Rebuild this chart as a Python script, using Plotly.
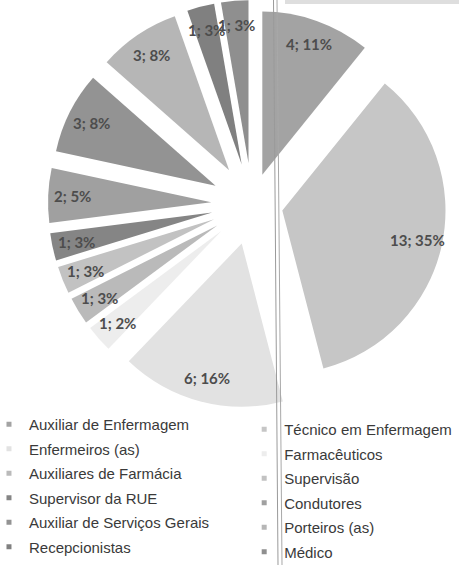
import math
import plotly.graph_objects as go

# Staff composition by role: head count and share shown on each slice
categories = [
    "Auxiliar de Enfermagem", "Técnico em Enfermagem",
    "Enfermeiros (as)", "Farmacêuticos",
    "Auxiliares de Farmácia", "Supervisão",
    "Supervisor da RUE", "Condutores",
    "Auxiliar de Serviços Gerais", "Porteiros (as)",
    "Recepcionistas", "Médico",
]
counts = [4, 13, 6, 1, 1, 1, 1, 2, 3, 3, 1, 1]
percent_labels = [11, 35, 16, 2, 3, 3, 3, 5, 8, 8, 3, 3]

# Grey shades for the slices, in category order
slice_colors = [
    "#a3a3a3", "#c6c6c6", "#e2e2e2", "#ededed",
    "#bababa", "#c2c2c2", "#858585", "#a0a0a0",
    "#939393", "#b6b6b6", "#808080", "#8f8f8f",
]
# Exploded slices: the two largest are pulled out a little less
slice_pull = [0.19, 0.19] + [0.25] * 10

W, H = 459, 565
dom_x = [0.104, 0.994]
dom_y = [0.2779, 1.0]

fig = go.Figure()
fig.add_trace(go.Pie(
    labels=categories,
    values=counts,
    sort=False,
    direction="clockwise",
    rotation=0,
    pull=slice_pull,
    marker=dict(colors=slice_colors, line=dict(width=0)),
    textinfo="none",
    hoverinfo="label+value+percent",
    domain=dict(x=dom_x, y=dom_y),
    showlegend=False,
))

# Two-column key: categories alternate between a left and a right legend
for i, (name, color) in enumerate(zip(categories, slice_colors)):
    fig.add_trace(go.Scatter(
        x=[None], y=[None], mode="markers", name=name,
        marker=dict(symbol="square", size=5, color=color),
        legend="legend" if i % 2 == 0 else "legend2",
        legendgroup=name, hoverinfo="skip",
    ))

# Data labels "count; share" placed along each slice's bisector,
# following the same radius / pull geometry plotly uses for the pie
box_w = W * (dom_x[1] - dom_x[0])
box_h = H * (dom_y[1] - dom_y[0])
r = min(box_w, box_h) / 2 / (1 + max(slice_pull))
cx = W * (dom_x[0] + dom_x[1]) / 2
cy = H * (1 - dom_y[1]) + box_h / 2
total = sum(counts)

annotations = []
cum = 0
for v, p, pull in zip(counts, percent_labels, slice_pull):
    mid = (cum + v / 2) / total * 2 * math.pi
    cum += v
    dist = (pull + 0.85) * r
    px = cx + dist * math.sin(mid)
    py = cy - dist * math.cos(mid)
    annotations.append(dict(
        x=px / W, y=1 - py / H, xref="paper", yref="paper",
        text=f"<b>{v}; {p}%</b>", showarrow=False,
        font=dict(family="Lato, Carlito, sans-serif", size=15, color="#4d4d4d"),
        xanchor="center", yanchor="middle",
    ))

# Fold line running down the scanned page and the shadow at its top edge
shapes = [
    dict(type="line", xref="paper", yref="paper",
         x0=273.5 / W, x1=278 / W, y0=1, y1=0,
         line=dict(color="#9a9a9a", width=1), layer="above"),
    dict(type="line", xref="paper", yref="paper",
         x0=277 / W, x1=282 / W, y0=1, y1=0,
         line=dict(color="#a8a8a8", width=1), layer="above"),
    dict(type="rect", xref="paper", yref="paper",
         x0=285 / W, x1=1, y0=1 - 4 / H, y1=1,
         fillcolor="#dedede", line=dict(width=0), layer="below"),
]

legend_font = dict(family="Liberation Sans, Arial, sans-serif", size=15, color="#3a3a3a")
legend_common = dict(
    orientation="v", xanchor="left", yanchor="top",
    traceorder="grouped", tracegroupgap=2,
    font=legend_font, bgcolor="rgba(0,0,0,0)",
    itemclick=False, itemdoubleclick=False,
)

fig.update_layout(
    width=W, height=H,
    margin=dict(l=0, r=0, t=0, b=0, autoexpand=False),
    paper_bgcolor="white",
    plot_bgcolor="white",
    xaxis=dict(visible=False),
    yaxis=dict(visible=False),
    annotations=annotations,
    shapes=shapes,
    showlegend=True,
    legend=dict(x=-0.024, y=1 - 408 / H, **legend_common),
    legend2=dict(x=0.532, y=1 - 413 / H, **legend_common),
)

fig.write_html("out.html")
